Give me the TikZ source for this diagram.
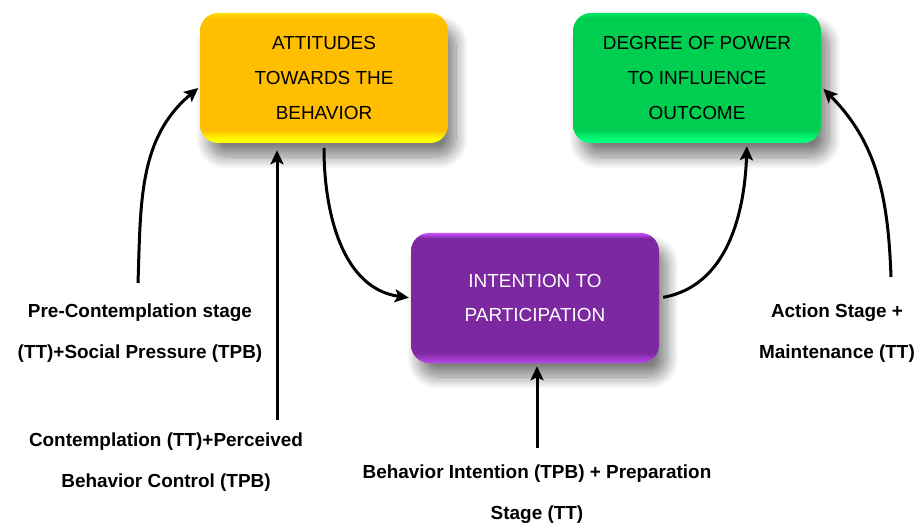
\documentclass[tikz,border=0pt]{standalone}
\usepackage{fontspec}
\setmainfont{Liberation Sans}
\usetikzlibrary{arrows.meta,shadows.blur}

\definecolor{attfill}{RGB}{255,190,0}
\definecolor{attedge}{RGB}{255,255,0}
\definecolor{powfill}{RGB}{0,206,80}
\definecolor{powedge}{RGB}{0,255,120}
\definecolor{intfill}{RGB}{124,40,160}
\definecolor{intedge}{RGB}{205,80,255}

% shading stops: the path spans 25bp (bottom) to 75bp (top)
\pgfdeclareverticalshading{attshade}{100bp}{color(0bp)=(attedge); color(26.5bp)=(attedge); color(30bp)=(attfill); color(73bp)=(attfill); color(75bp)=(attedge!50!attfill); color(100bp)=(attedge!50!attfill)}
\pgfdeclareverticalshading{powshade}{100bp}{color(0bp)=(powedge); color(26.5bp)=(powedge); color(30bp)=(powfill); color(73bp)=(powfill); color(75bp)=(powedge!50!powfill); color(100bp)=(powedge!50!powfill)}
\pgfdeclareverticalshading{intshade}{100bp}{color(0bp)=(intedge); color(25.5bp)=(intedge!70!intfill); color(29bp)=(intfill); color(73bp)=(intfill); color(75bp)=(intedge); color(100bp)=(intedge)}

\begin{document}
\begin{tikzpicture}[x=1bp, y=-1bp,
		box/.style={rounded corners=18bp, minimum width=248bp, minimum height=130bp, align=center,
			font=\fontsize{19}{35}\selectfont,
			blur shadow={shadow xshift=8bp, shadow yshift=-14bp, shadow blur radius=12bp, shadow blur steps=14, shadow opacity=50}},
		lbl/.style={align=center, font=\fontsize{19}{41}\selectfont\bfseries},
		arr/.style={-{Stealth[length=14bp, width=13bp, inset=3bp]}, line width=3bp}]
	\useasboundingbox (0,0) rectangle (923,529);
	
	\node[box, shading=attshade] (att) at (324,78) {ATTITUDES\\TOWARDS THE\\BEHAVIOR};
	\node[box, shading=powshade] (pow) at (697,78) {DEGREE OF POWER\\TO INFLUENCE\\OUTCOME};
	\node[box, shading=intshade, text=white] (int) at (535,298) {INTENTION TO\\PARTICIPATION};
	
	\node[lbl] (pre) at (140,333) {Pre-Contemplation stage\\(TT)+Social Pressure (TPB)};
	\node[lbl] (con) at (166,462) {Contemplation (TT)+Perceived\\Behavior Control (TPB)};
	\node[lbl] (bi) at (537,494) {Behavior Intention (TPB) + Preparation\\Stage (TT)};
	\node[lbl] (act) at (837,333) {Action Stage +\\Maintenance (TT)};
	
	\coordinate (c1) at (138,283);
	\coordinate (c2) at (277,420);
	\coordinate (c5) at (891,277);
	\coordinate (c6) at (537,448);
	
	\draw[arr, shorten >=2bp] (c1) to[out=88, in=-140] (att.184);
	\draw[arr, shorten >=7bp] (c2) -- (c2 |- att.south);
	\draw[arr, shorten <=5bp, shorten >=2bp] (att.south) to[out=-90, in=172] (int.west);
	\draw[arr, shorten <=4bp, shorten >=3bp] (int.east) to[out=10, in=-92] ([xshift=50bp]pow.south);
	\draw[arr, shorten >=3bp] (c5) to[out=92, in=-45] (pow.-4);
	\draw[arr, shorten >=3bp] (c6) -- (c6 |- int.south);
	
\end{tikzpicture}
\end{document}
